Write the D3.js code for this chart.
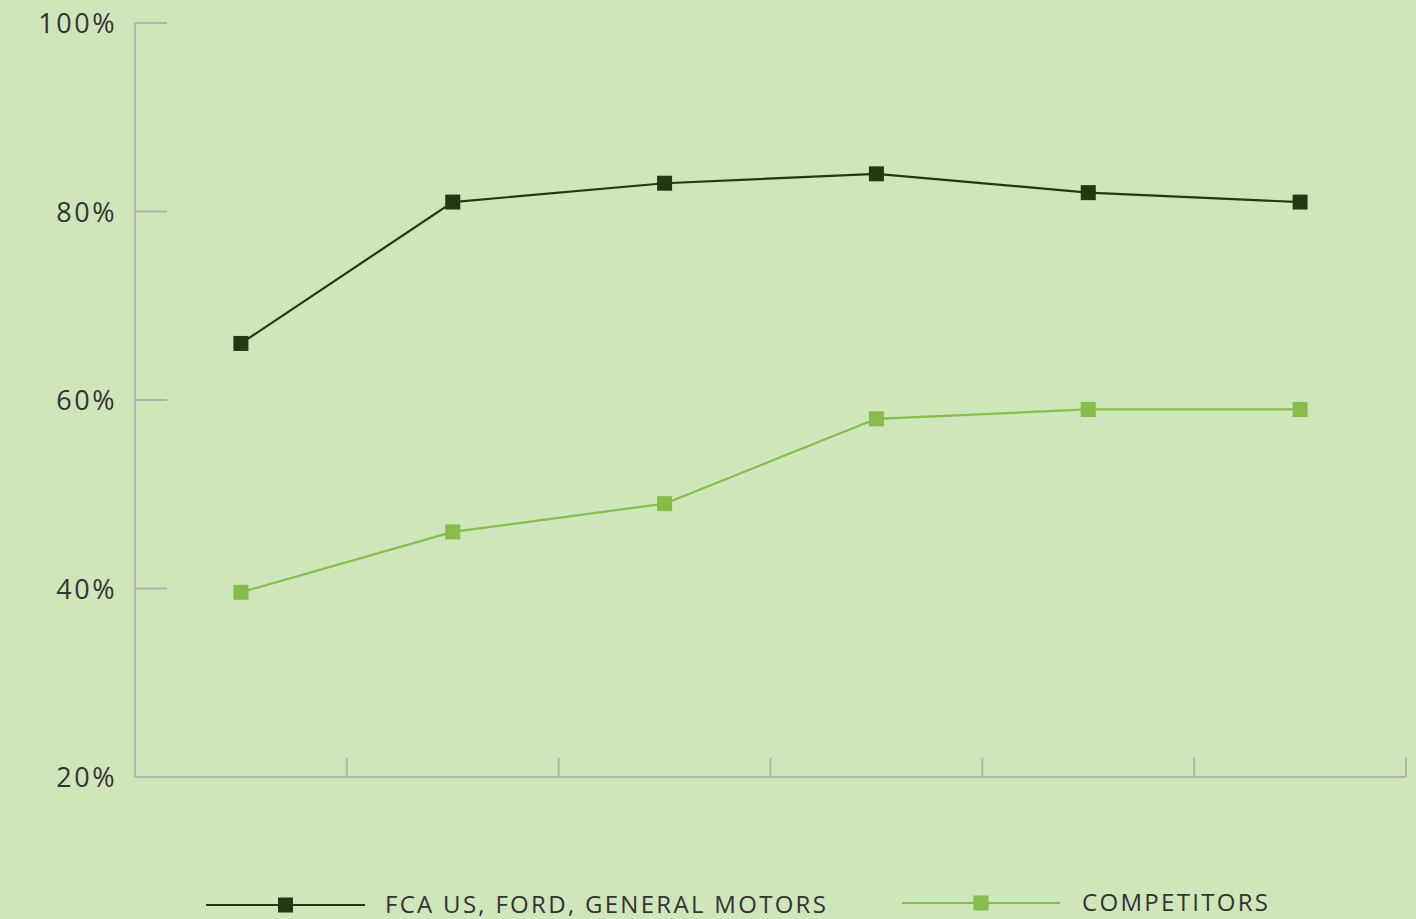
<!DOCTYPE html>
<html>
<head>
<meta charset="utf-8">
<script src="https://cdn.jsdelivr.net/npm/d3@7"></script>
<style>
  body { margin: 0; background: #cfe5ba; }
  svg { display: block; font-family: "Open Sans", "Lato", sans-serif; }
  .tick-label { font-size: 27px; fill: #333; letter-spacing: 2.5px; }
  .legend-text { font-size: 24px; fill: #333; letter-spacing: 2.3px; }
</style>
</head>
<body>
<svg id="chart" width="1416" height="919"></svg>
<script>
const categories = ["1", "2", "3", "4", "5", "6"];
const bigThree = [66, 81, 83, 84, 82, 81];
const competitors = [39.6, 46, 49, 58, 59, 59];
const yTicks = [20, 40, 60, 80, 100];
const seriesNames = ["FCA US, FORD, GENERAL MOTORS", "COMPETITORS"];
const seriesColors = ["#223a14", "#86bc4a"];

const svg = d3.select("#chart");
const plotLeft = 135, plotRight = 1406, plotTop = 23, plotBottom = 777;

const x = d3.scaleBand().domain(categories).range([plotLeft, plotRight]);
const y = d3.scaleLinear().domain([20, 100]).range([plotBottom, plotTop]);
const axisColor = "#b3b3b3";

// y axis line + short ticks pointing right
svg.append("line")
  .attr("x1", plotLeft).attr("x2", plotLeft)
  .attr("y1", y(100)).attr("y2", y(20))
  .attr("stroke", axisColor).attr("stroke-width", 2);
svg.selectAll(".ytick")
  .data(yTicks)
  .enter()
  .append("line")
  .attr("x1", plotLeft).attr("x2", plotLeft + 32)
  .attr("y1", (d) => y(d)).attr("y2", (d) => y(d))
  .attr("stroke", axisColor).attr("stroke-width", 2);
svg.selectAll(".tick-label")
  .data(yTicks)
  .enter()
  .append("text")
  .attr("class", "tick-label")
  .attr("x", plotLeft - 18)
  .attr("y", (d) => y(d) + 10)
  .attr("text-anchor", "end")
  .text((d) => d + "%");

// x axis line + ticks at band boundaries pointing up
svg.append("line")
  .attr("x1", plotLeft).attr("x2", plotRight)
  .attr("y1", plotBottom).attr("y2", plotBottom)
  .attr("stroke", axisColor).attr("stroke-width", 2);
svg.selectAll(".xtick")
  .data(categories)
  .enter()
  .append("line")
  .attr("x1", (d) => x(d) + x.bandwidth())
  .attr("x2", (d) => x(d) + x.bandwidth())
  .attr("y1", plotBottom).attr("y2", plotBottom - 19)
  .attr("stroke", axisColor).attr("stroke-width", 2);

// series
const line = d3.line()
  .x((d, i) => x(categories[i]) + x.bandwidth() / 2)
  .y((d) => y(d));

[bigThree, competitors].forEach((vals, k) => {
  svg.append("path")
    .datum(vals)
    .attr("fill", "none")
    .attr("stroke", seriesColors[k])
    .attr("stroke-width", 2.2)
    .attr("d", line);
  svg.selectAll(".m" + k)
    .data(vals)
    .enter()
    .append("rect")
    .attr("x", (d, i) => x(categories[i]) + x.bandwidth() / 2 - 7.5)
    .attr("y", (d) => y(d) - 7.5)
    .attr("width", 15).attr("height", 15)
    .attr("fill", seriesColors[k]);
});

// legend
const legendItems = [
  { x1: 206, x2: 365, ly: 905, tx: 385 },
  { x1: 902, x2: 1060, ly: 903, tx: 1082 },
];
legendItems.forEach((l, k) => {
  const g = svg.append("g");
  g.append("line")
    .attr("x1", l.x1).attr("x2", l.x2)
    .attr("y1", l.ly).attr("y2", l.ly)
    .attr("stroke", seriesColors[k]).attr("stroke-width", 2.2);
  g.append("rect")
    .attr("x", (l.x1 + l.x2) / 2 - 7.5).attr("y", l.ly - 7.5)
    .attr("width", 15).attr("height", 15)
    .attr("fill", seriesColors[k]);
  g.append("text")
    .attr("class", "legend-text")
    .attr("x", l.tx).attr("y", l.ly + 8)
    .text(seriesNames[k]);
});
</script>
</body>
</html>
